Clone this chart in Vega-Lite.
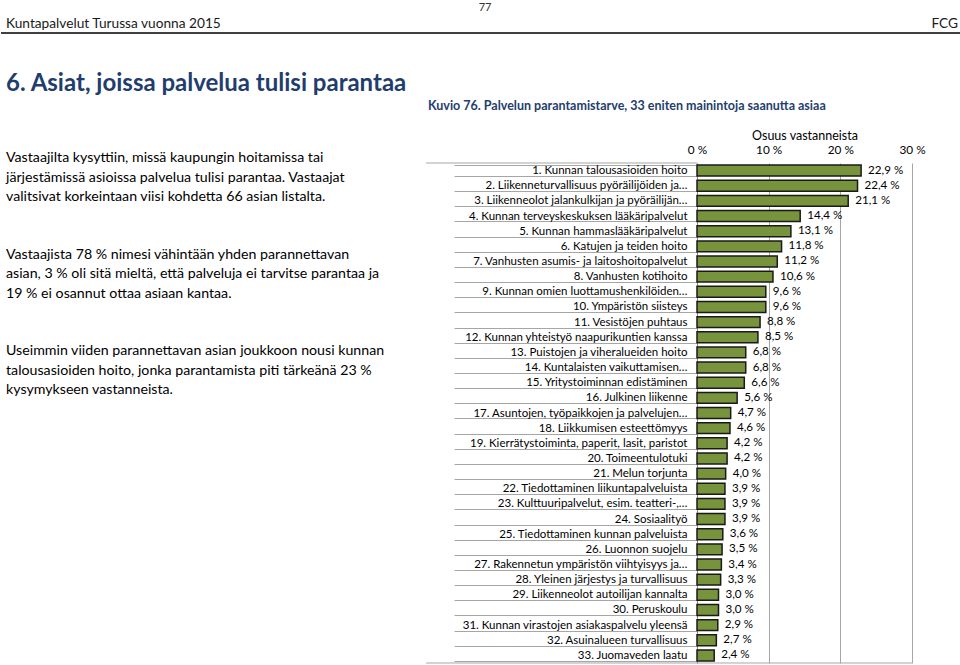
{
  "$schema": "https://vega.github.io/schema/vega-lite/v6.json",
  "padding": 0,
  "spacing": 130,
  "bounds": "flush",
  "config": {"view": {"stroke": null}, "font": "Lato"},
  "vconcat": [
    {
      "width": 960,
      "height": 33,
      "data": {"values": [{}]},
      "layer": [
        {
          "mark": {"type": "text", "text": "77", "align": "center", "baseline": "middle", "fontSize": 11, "color": "#333333", "dx": 4, "dy": 8},
          "encoding": {
            "x": {"datum": 0.5, "type": "quantitative", "scale": {"domain": [0, 1]}, "axis": null},
            "y": {"datum": 1, "type": "quantitative", "scale": {"domain": [0, 1]}, "axis": null}
          }
        },
        {
          "mark": {"type": "text", "text": "Kuntapalvelut Turussa vuonna 2015", "align": "left", "baseline": "alphabetic", "fontSize": 13.7, "color": "#1a1a1a", "dx": 5, "dy": -5},
          "encoding": {
            "x": {"datum": 0, "type": "quantitative"},
            "y": {"datum": 0, "type": "quantitative"}
          }
        },
        {
          "mark": {"type": "text", "text": "FCG", "align": "right", "baseline": "alphabetic", "fontSize": 13.7, "color": "#1a1a1a", "dx": -3, "dy": -5},
          "encoding": {
            "x": {"datum": 1, "type": "quantitative"},
            "y": {"datum": 0, "type": "quantitative"}
          }
        },
        {
          "mark": {"type": "rule", "color": "#000000", "strokeWidth": 1.5},
          "encoding": {"y": {"datum": 0, "type": "quantitative"}}
        }
      ]
    },
    {
      "hconcat": [
        {
          "width": 696,
          "height": 193,
          "title": {"text": "6. Asiat, joissa palvelua tulisi parantaa", "anchor": "start", "frame": "group", "dx": 5, "offset": 36, "baseline": "alphabetic", "font": "Lato", "fontSize": 24, "fontWeight": "bold", "color": "#1f3d6e"},
          "data": {"values": [
            {"kappale": 1, "teksti": "Vastaajilta kysyttiin, missä kaupungin hoitamissa tai\njärjestämissä asioissa palvelua tulisi parantaa. Vastaajat\nvalitsivat korkeintaan viisi kohdetta 66 asian listalta."},
            {"kappale": 2, "teksti": "Vastaajista 78 % nimesi vähintään yhden parannettavan\nasian, 3 % oli sitä mieltä, että palveluja ei tarvitse parantaa ja\n19 % ei osannut ottaa asiaan kantaa."},
            {"kappale": 3, "teksti": "Useimmin viiden parannettavan asian joukkoon nousi kunnan\ntalousasioiden hoito, jonka parantamista piti tärkeänä 23 %\nkysymykseen vastanneista."}
          ]},
          "mark": {"type": "text", "align": "left", "baseline": "top", "lineBreak": "\n", "lineHeight": 19.7, "fontSize": 14.2, "color": "#000000", "dx": 5, "dy": -12},
          "encoding": {
            "x": {"datum": 0, "type": "quantitative", "scale": {"domain": [0, 1]}, "axis": null},
            "y": {"field": "kappale", "type": "ordinal", "scale": {"type": "point", "padding": 0}, "axis": null},
            "text": {"field": "teksti", "type": "nominal"}
          }
        },
        {
          "width": 215,
          "height": 500,
          "title": {"text": "Kuvio 76. Palvelun parantamistarve, 33 eniten mainintoja saanutta asiaa", "anchor": "start", "frame": "group", "dx": -269, "offset": 7, "baseline": "alphabetic", "font": "Lato", "fontSize": 12.5, "fontWeight": "bold", "color": "#1f3d6e"},
          "data": {"values": [
            {"asia": "1. Kunnan talousasioiden hoito", "osuus": 22.9},
            {"asia": "2. Liikenneturvallisuus pyöräilijöiden ja…", "osuus": 22.4},
            {"asia": "3. Liikenneolot jalankulkijan ja pyöräilijän…", "osuus": 21.1},
            {"asia": "4. Kunnan terveyskeskuksen lääkäripalvelut", "osuus": 14.4},
            {"asia": "5. Kunnan hammaslääkäripalvelut", "osuus": 13.1},
            {"asia": "6. Katujen ja teiden hoito", "osuus": 11.8},
            {"asia": "7. Vanhusten asumis- ja laitoshoitopalvelut", "osuus": 11.2},
            {"asia": "8. Vanhusten kotihoito", "osuus": 10.6},
            {"asia": "9. Kunnan omien luottamushenkilöiden…", "osuus": 9.6},
            {"asia": "10. Ympäristön siisteys", "osuus": 9.6},
            {"asia": "11. Vesistöjen puhtaus", "osuus": 8.8},
            {"asia": "12. Kunnan yhteistyö naapurikuntien kanssa", "osuus": 8.5},
            {"asia": "13. Puistojen ja viheralueiden hoito", "osuus": 6.8},
            {"asia": "14. Kuntalaisten vaikuttamisen…", "osuus": 6.8},
            {"asia": "15. Yritystoiminnan edistäminen", "osuus": 6.6},
            {"asia": "16. Julkinen liikenne", "osuus": 5.6},
            {"asia": "17. Asuntojen, työpaikkojen ja palvelujen…", "osuus": 4.7},
            {"asia": "18. Liikkumisen esteettömyys", "osuus": 4.6},
            {"asia": "19. Kierrätystoiminta, paperit, lasit, paristot", "osuus": 4.2},
            {"asia": "20. Toimeentulotuki", "osuus": 4.2},
            {"asia": "21. Melun torjunta", "osuus": 4.0},
            {"asia": "22. Tiedottaminen liikuntapalveluista", "osuus": 3.9},
            {"asia": "23. Kulttuuripalvelut, esim. teatteri-,…", "osuus": 3.9},
            {"asia": "24. Sosiaalityö", "osuus": 3.9},
            {"asia": "25. Tiedottaminen kunnan palveluista", "osuus": 3.6},
            {"asia": "26. Luonnon suojelu", "osuus": 3.5},
            {"asia": "27. Rakennetun ympäristön viihtyisyys ja…", "osuus": 3.4},
            {"asia": "28. Yleinen järjestys ja turvallisuus", "osuus": 3.3},
            {"asia": "29. Liikenneolot autoilijan kannalta", "osuus": 3.0},
            {"asia": "30. Peruskoulu", "osuus": 3.0},
            {"asia": "31. Kunnan virastojen asiakaspalvelu yleensä", "osuus": 2.9},
            {"asia": "32. Asuinalueen turvallisuus", "osuus": 2.7},
            {"asia": "33. Juomaveden laatu", "osuus": 2.4}
          ]},
          "layer": [
            {
              "mark": {"type": "bar", "fill": "#77933c", "stroke": "#1a1a1a", "strokeWidth": 1.5},
              "encoding": {
                "y": {
                  "field": "asia", "type": "nominal", "sort": null,
                  "scale": {"paddingInner": 0.28, "paddingOuter": 0.14},
                  "axis": {"orient": "left", "title": null, "tickBand": "extent", "tickSize": 243, "tickColor": "#a6a6a6", "tickWidth": 1, "labelPadding": -233, "labelAlign": "right", "labelFont": "Lato", "labelFontSize": 11.5, "labelColor": "#000000", "labelLimit": 0, "domainColor": "#868686", "domainWidth": 1, "grid": false}
                },
                "x": {
                  "field": "osuus", "type": "quantitative",
                  "scale": {"domain": [0, 30], "nice": false},
                  "axis": {"orient": "top", "values": [0, 10, 20, 30], "labelExpr": "datum.value + ' %'", "title": "Osuus vastanneista", "titleFont": "Lato", "titleFontSize": 12.5, "titleFontWeight": "normal", "titleColor": "#000000", "titlePadding": 2, "labelFont": "Lato", "labelFontSize": 11.8, "labelColor": "#000000", "labelPadding": 8, "labelFlush": false, "labelOverlap": false, "ticks": false, "domain": false, "grid": true, "gridColor": "#a6a6a6"}
                }
              }
            },
            {
              "mark": {"type": "text", "align": "left", "baseline": "middle", "dx": 7, "fontSize": 11.6, "color": "#000000", "text": {"expr": "replace(format(datum.osuus, '.1f'), '.', ',') + ' %'"}},
              "encoding": {
                "y": {"field": "asia", "type": "nominal", "sort": null},
                "x": {"field": "osuus", "type": "quantitative"}
              }
            },
            {
              "data": {"values": [{}]},
              "mark": {"type": "rule", "color": "#a6a6a6", "strokeWidth": 1},
              "encoding": {
                "y": {"datum": "1. Kunnan talousasioiden hoito", "type": "nominal", "bandPosition": -0.1944},
                "x": {"datum": -37.8, "type": "quantitative"},
                "x2": {"datum": 0}
              }
            },
            {
              "data": {"values": [{}]},
              "mark": {"type": "rule", "color": "#a6a6a6", "strokeWidth": 1},
              "encoding": {
                "y": {"datum": "33. Juomaveden laatu", "type": "nominal", "bandPosition": 1.1944},
                "x": {"datum": -37.8, "type": "quantitative"},
                "x2": {"datum": 30}
              }
            }
          ]
        }
      ],
      "spacing": 0,
      "bounds": "flush"
    }
  ]
}
